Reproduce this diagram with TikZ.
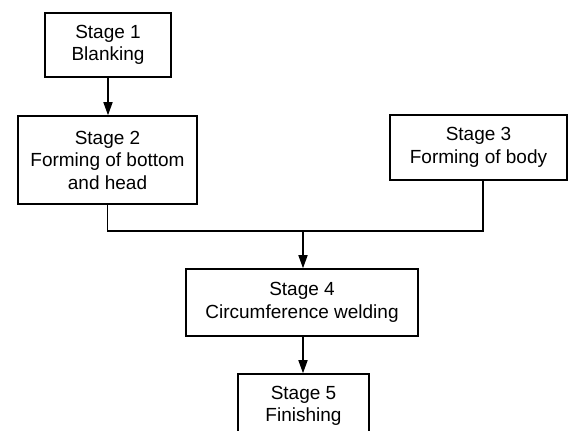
\documentclass[tikz,border=0pt]{standalone}
\usepackage{fontspec}
\setmainfont{Liberation Sans}
\usetikzlibrary{arrows.meta}
\tikzset{
  stagebox/.style={draw=black, line width=1.5pt, rectangle, align=center, inner sep=2pt,
    font=\fontsize{19}{22.5}\selectfont},
  conn/.style={draw=black, line width=1.5pt},
  arr/.style={conn, -{Triangle[length=13pt,width=9pt]}}
}
\begin{document}
\begin{tikzpicture}[x=1pt,y=1pt]
\useasboundingbox (0,0) rectangle (568,431);
\clip (0,0) rectangle (568,431);
\node[stagebox, minimum width=126pt, minimum height=64pt] (s1) at (108,386) {Stage 1\\Blanking};
\node[stagebox, minimum width=179pt, minimum height=88pt] (s2) at (107.5,271) {Stage 2\\Forming of bottom\\and head};
\node[stagebox, minimum width=177pt, minimum height=65pt] (s3) at (478.5,283.5) {Stage 3\\Forming of body};
\node[stagebox, minimum width=232pt, minimum height=67pt] (s4) at (302,128.5) {Stage 4\\Circumference welding};
\node[stagebox, minimum width=131pt, minimum height=64pt] (s5) at (303.5,25) {Stage 5\\Finishing};
\coordinate (jL) at (107.5,200);
\coordinate (jR) at (483,200);
\coordinate (j) at (303,200);
\draw[arr] (s1.south) -- (s1.south |- s2.north);
\draw[conn] (s2.south) -- (jL) -- (jR) -- (jR |- s3.south);
\draw[arr] (j) -- (j |- s4.north);
\draw[arr] (s4.south -| j) -- (j |- s5.north);
\end{tikzpicture}
\end{document}
